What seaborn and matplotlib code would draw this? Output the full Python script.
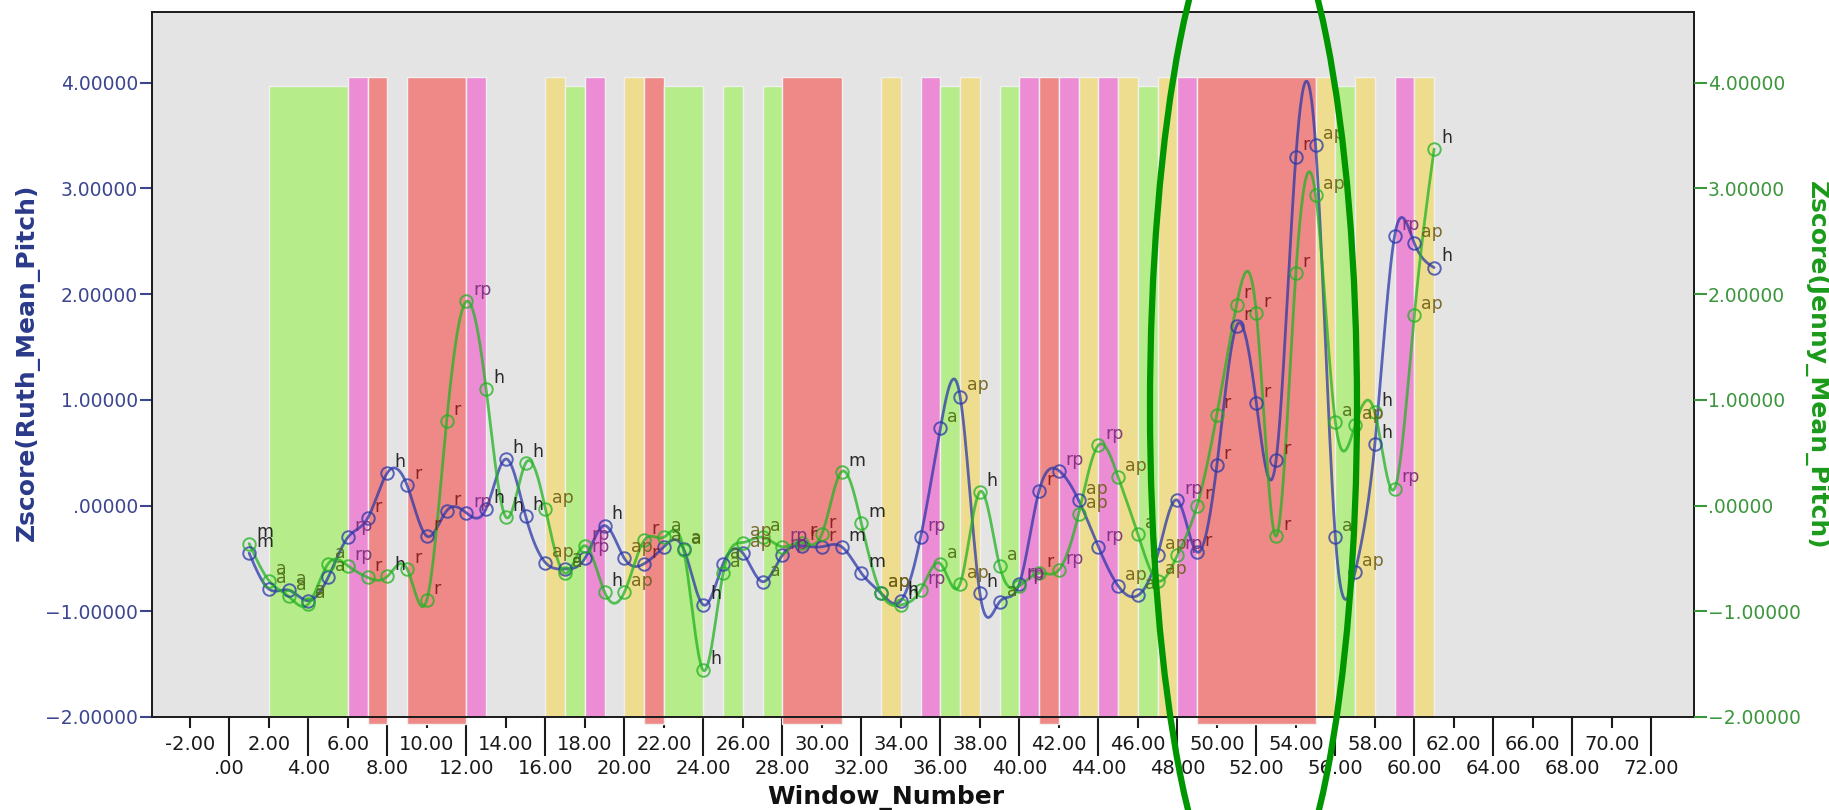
import numpy as np
import pandas as pd
import matplotlib
matplotlib.use("Agg")
import matplotlib.pyplot as plt
from matplotlib.patches import Ellipse
import seaborn as sns

# ---------------- data ----------------
windows = list(range(1, 62))
ruth = [-0.45, -0.79, -0.80, -0.90, -0.68, -0.30, -0.12, 0.31, 0.19, -0.29,
        -0.05, -0.07, -0.03, 0.44, -0.10, -0.54, -0.60, -0.50, -0.19, -0.50,
        -0.55, -0.39, -0.41, -0.94, -0.55, -0.45, -0.72, -0.47, -0.38, -0.39,
        -0.39, -0.64, -0.83, -0.90, -0.30, 0.73, 1.03, -0.83, -0.91, -0.74,
        0.14, 0.33, 0.05, -0.39, -0.76, -0.85, -0.47, 0.05, -0.44, 0.38,
        1.70, 0.97, 0.43, 3.30, 3.41, -0.30, -0.63, 0.58, 2.55, 2.48, 2.25]
jenny = [-0.36, -0.71, -0.86, -0.93, -0.55, -0.57, -0.68, -0.67, -0.60, -0.89,
         0.80, 1.93, 1.10, -0.11, 0.40, -0.03, -0.64, -0.38, -0.82, -0.82,
         -0.33, -0.30, -0.42, -1.56, -0.64, -0.35, -0.30, -0.39, -0.35, -0.27,
         0.32, -0.17, -0.83, -0.94, -0.80, -0.55, -0.74, 0.13, -0.57, -0.76,
         -0.64, -0.61, -0.08, 0.57, 0.27, -0.27, -0.71, -0.47, 0.00, 0.86,
         1.90, 1.82, -0.29, 2.20, 2.94, 0.79, 0.76, 0.88, 0.16, 1.80, 3.37]
labels = ["m", "a", "a", "a", "a", "rp", "r", "h", "r", "r",
          "r", "rp", "h", "h", "h", "ap", "a", "rp", "h", "ap",
          "r", "a", "a", "h", "a", "ap", "a", "rp", "r", "r",
          "m", "m", "ap", "h", "rp", "a", "ap", "h", "a", "rp",
          "r", "rp", "ap", "rp", "ap", "a", "ap", "rp", "r", "r",
          "r", "r", "r", "r", "ap", "a", "ap", "h", "rp", "ap", "h"]
bands = ["", "a", "a", "a", "a", "rp", "r", "", "r", "r",
         "r", "rp", "", "", "", "ap", "a", "rp", "", "ap",
         "r", "a", "a", "", "a", "", "a", "r", "r", "r",
         "", "", "ap", "", "rp", "a", "ap", "", "a", "rp",
         "r", "rp", "ap", "rp", "ap", "a", "ap", "rp", "r", "r",
         "r", "r", "r", "r", "ap", "a", "ap", "", "rp", "ap", ""]
band_top = {"a": 3.97, "rp": 4.055, "r": 4.055, "ap": 4.055}
band_bottom = {"a": -2.0, "rp": -2.0, "r": -2.07, "ap": -2.0}
band_color = {"a": "#b6ec8a", "rp": "#ec8cd4", "r": "#ee8987", "ap": "#eedd8e"}
label_color = {"a": "#4b6b14", "ap": "#6e5e14", "r": "#821818",
               "rp": "#7a2a7a", "h": "#151515", "m": "#151515"}
y_ticks = [-2, -1, 0, 1, 2, 3, 4]
x_ticks_low = list(range(0, 73, 4))
x_ticks_up = list(range(-2, 71, 4))

RUTH_C = "#2a38a8"
JENNY_C = "#22b322"

# ---------------- helpers ----------------
def natural_spline(x, y, xs):
    x = np.asarray(x, float); y = np.asarray(y, float)
    n = len(x); h = np.diff(x)
    A = np.zeros((n, n)); rhs = np.zeros(n)
    A[0, 0] = 1; A[-1, -1] = 1
    for i in range(1, n - 1):
        A[i, i - 1] = h[i - 1]; A[i, i] = 2 * (h[i - 1] + h[i]); A[i, i + 1] = h[i]
        rhs[i] = 3 * ((y[i + 1] - y[i]) / h[i] - (y[i] - y[i - 1]) / h[i - 1])
    c = np.linalg.solve(A, rhs)
    b = (y[1:] - y[:-1]) / h - h * (2 * c[:-1] + c[1:]) / 3
    d = (c[1:] - c[:-1]) / (3 * h)
    idx = np.clip(np.searchsorted(x, xs) - 1, 0, n - 2)
    dx = xs - x[idx]
    return y[idx] + b[idx] * dx + c[idx] * dx ** 2 + d[idx] * dx ** 3

def fmt_y(v):
    s = f"{abs(v):.5f}"
    if s.startswith("0"):
        s = s[1:]
    return ("\u2212" if v < 0 else "") + s

def fmt_x(v):
    s = f"{abs(v):.2f}"
    if s.startswith("0"):
        s = s[1:]
    return ("-" if v < 0 else "") + s

# ---------------- figure ----------------
sns.set_theme(style="white")
plt.rcParams["font.family"] = ["DejaVu Sans"]
fig = plt.figure(figsize=(18.29, 8.10), dpi=100)
fig.patch.set_facecolor("white")
ax = fig.add_axes([152 / 1829, 93 / 810, 1542 / 1829, 705 / 810])
ax.set_facecolor("#e4e4e4")
ax.set_xlim(-3.92, 74.16)
ax.set_ylim(-2.0, 4.667)

# bands: merge runs of same category
runs = []
for w, b in zip(windows, bands):
    if runs and runs[-1][0] == b and runs[-1][2] == w:
        runs[-1][2] = w + 1
    else:
        runs.append([b, w, w + 1])
for cat, start, end in runs:
    if not cat:
        continue
    ax.bar(start, band_top[cat] - band_bottom[cat], width=end - start,
           bottom=band_bottom[cat], align="edge", color=band_color[cat],
           edgecolor="#f0f0f0", linewidth=1.0, zorder=1, clip_on=False)

# smooth lines
xs = np.linspace(windows[0], windows[-1], 1500)
for vals, col in [(ruth, RUTH_C), (jenny, JENNY_C)]:
    ys = natural_spline(windows, vals, xs)
    df = pd.DataFrame({"x": xs, "y": ys})
    sns.lineplot(data=df, x="x", y="y", ax=ax, color=col, lw=2.0, alpha=0.75,
                 estimator=None, sort=False, zorder=3)
    ax.plot(windows, vals, linestyle="none", marker="o", ms=9, mfc="none",
            mec=col, mew=1.4, alpha=0.75, zorder=4)

# point labels
for vals in (ruth, jenny):
    for w, v, lab in zip(windows, vals, labels):
        ax.annotate(lab, (w, v), xytext=(5, 8), textcoords="offset points",
                    ha="left", va="center", fontsize=12.5,
                    color=label_color[lab], alpha=0.9, zorder=5)

# axes frame
for sp in ax.spines.values():
    sp.set_visible(True)
    sp.set_color("#1a1a1a")
    sp.set_linewidth(1.4)

# y ticks (left)
ax.set_yticks(y_ticks, labels=[fmt_y(v) for v in y_ticks])
ax.tick_params(axis="y", which="major", direction="out", length=9, width=1.5,
               color="#3c4690", labelcolor="#3c4690", labelsize=13.5, pad=1,
               left=True)
ax.set_ylabel("")

# x ticks: two rows
ax.set_xticks(x_ticks_low, labels=[fmt_x(v) for v in x_ticks_low])
ax.set_xticks(x_ticks_up, labels=[fmt_x(v) for v in x_ticks_up], minor=True)
ax.tick_params(axis="x", which="major", direction="out", length=28, width=1.5,
               color="#1a1a1a", labelcolor="#1a1a1a", labelsize=14, pad=2,
               bottom=True)
ax.tick_params(axis="x", which="minor", direction="out", length=8, width=1.5,
               color="#1a1a1a", labelcolor="#1a1a1a", labelsize=14, pad=5,
               bottom=True)
ax.set_xlabel("")

# right axis
ax2 = ax.twinx()
ax2.set_ylim(ax.get_ylim())
ax2.set_yticks(y_ticks, labels=[fmt_y(v) for v in y_ticks])
ax2.tick_params(axis="y", direction="out", length=9, width=1.5,
                color="#3c963c", labelcolor="#3c963c", labelsize=13.5, pad=1,
                right=True)
ax2.grid(False)
for sp in ax2.spines.values():
    sp.set_visible(False)

# axis titles
fig.text(27 / 1829, 1 - 362 / 810, "Zscore(Ruth_Mean_Pitch)", rotation=90,
         ha="center", va="center", fontsize=18, fontweight="bold",
         color="#2a3a8a")
fig.text(1816 / 1829, 1 - 365 / 810, "Zscore(Jenny_Mean_Pitch)", rotation=270,
         ha="center", va="center", fontsize=18, fontweight="bold",
         color="#1a9a1a")
fig.text(886 / 1829, 1 - 797 / 810, "Window_Number",
         ha="center", va="center", fontsize=18, fontweight="bold",
         color="#111111")

# hand-drawn highlight ellipse
ell = Ellipse((1253.5 / 1829, 403 / 810), 207 / 1829, 1041 / 810,
              transform=fig.transFigure, fill=False, ec="#009600", lw=4.5,
              zorder=10)
fig.add_artist(ell)

fig.savefig("out.png", dpi=100)
